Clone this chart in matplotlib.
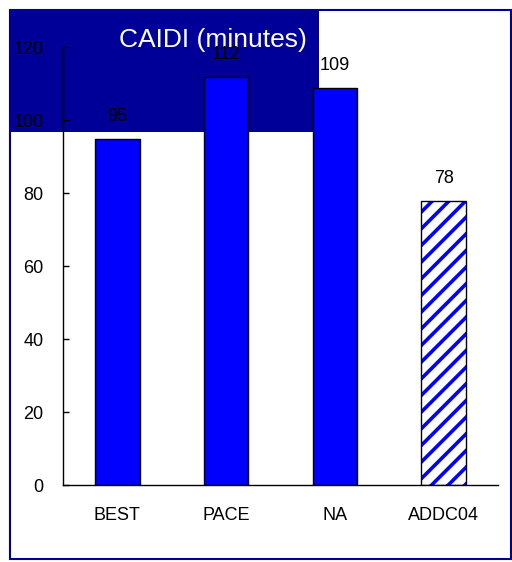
import matplotlib
matplotlib.use("Agg")
import matplotlib.pyplot as plt
from matplotlib.patches import Rectangle

categories = ["BEST", "PACE", "NA", "ADDC04"]
caidi_minutes = [95, 112, 109, 78]
hatched = [False, False, False, True]
y_ticks = [0, 20, 40, 60, 80, 100, 120]
title = "CAIDI (minutes)"

NAVY = "#000099"
BLUE = "#0000FF"
font = ["Liberation Sans Narrow", "Liberation Sans", "DejaVu Sans"]
plt.rcParams["font.family"] = font
plt.rcParams["hatch.linewidth"] = 2.6

fig = plt.figure(figsize=(5.12, 5.62), dpi=100)
fig.patch.set_facecolor("white")

# title banner and outer frame, kept behind the axes
fig.patches.append(Rectangle((0.0195, 0.765), 0.604, 0.218, transform=fig.transFigure,
                             facecolor=NAVY, edgecolor="none", zorder=-2))
fig.patches.append(Rectangle((0.0195, 0.006), 0.978, 0.977, transform=fig.transFigure,
                             facecolor="none", edgecolor=NAVY, linewidth=1.5, zorder=-2))
fig.text(0.416, 0.929, title, color="white", fontsize=19,
         ha="center", va="center", zorder=-1)

ax = fig.add_axes([0.123, 0.137, 0.850, 0.7785])
ax.set_zorder(1)
ax.patch.set_alpha(0)
ax.set_xlim(-0.5, len(categories) - 0.5)
ax.set_ylim(0, 120)

x = range(len(categories))
for i, (v, h) in enumerate(zip(caidi_minutes, hatched)):
    if h:
        ax.bar(i, v, width=0.41, color="white", edgecolor=BLUE, hatch="//",
               linewidth=0, zorder=2)
        ax.bar(i, v, width=0.41, fill=False, edgecolor="black", linewidth=1, zorder=3)
    else:
        ax.bar(i, v, width=0.41, color=BLUE, edgecolor="black", linewidth=1, zorder=2)
    ax.annotate(f"{v}", (i, v), xytext=(0, 10), textcoords="offset points",
                ha="center", va="bottom", fontsize=13)

ax.set_xticks(list(x))
ax.set_xticklabels(categories, fontsize=13)
ax.set_yticks(y_ticks)
ax.set_yticklabels([str(t) for t in y_ticks], fontsize=13)
ax.tick_params(axis="x", length=0, pad=16)
ax.tick_params(axis="y", direction="in", length=4.5, width=1, pad=14)

for s in ["top", "right"]:
    ax.spines[s].set_visible(False)
for s in ["left", "bottom"]:
    ax.spines[s].set_color("black")
    ax.spines[s].set_linewidth(1)

fig.savefig("out.png", dpi=100)
